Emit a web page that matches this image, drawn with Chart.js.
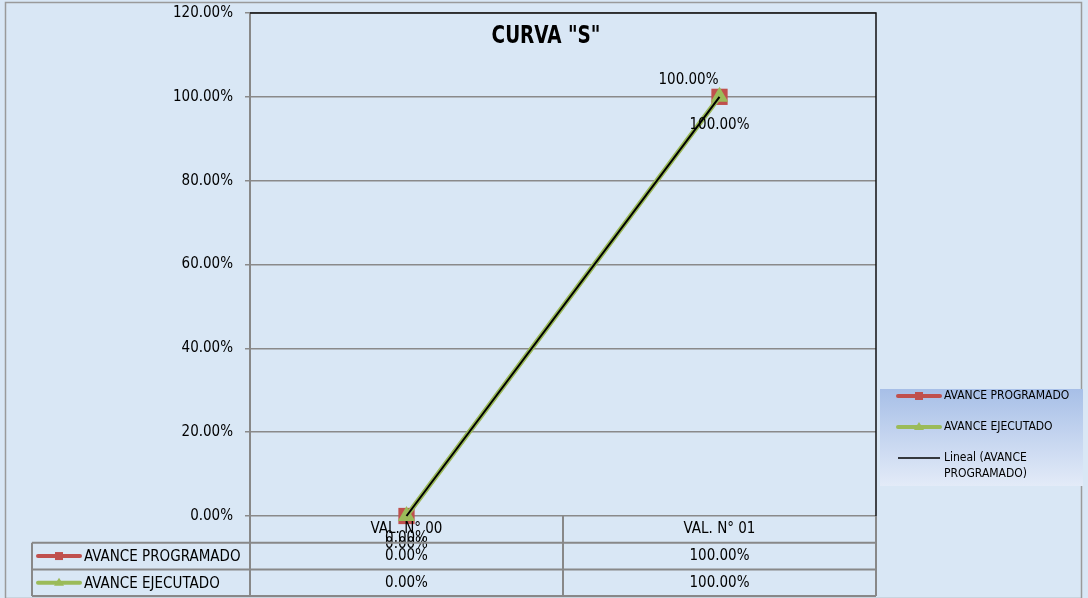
<!DOCTYPE html>
<html>
<head>
<meta charset="utf-8">
<script src="https://cdn.jsdelivr.net/npm/chart.js@4/dist/chart.umd.min.js"></script>
<style>
  html, body { margin: 0; padding: 0; background: #ffffff; }
  #wrap { width: 1088px; height: 598px; position: relative; }
</style>
</head>
<body>
<div id="wrap"><canvas id="curva" width="1088" height="598"></canvas></div>
<script>
// chart data
const categories = ['VAL. N° 00', 'VAL. N° 01'];
const avanceProgramado = [0, 1];
const avanceEjecutado = [0, 1];
const yTickValues = [0, 0.2, 0.4, 0.6, 0.8, 1.0, 1.2];

const FONT = "'Liberation Sans Narrow', 'Arial Narrow', 'DejaVu Sans Condensed', sans-serif";
const RED = '#c0504d';
const GREEN = '#9bbb59';

function pct(v) {
    return (v * 100).toFixed(2) + '%';
}

// linear trend (least squares) of the programmed series
function linearTrend(values) {
    const n = values.length;
    let sx = 0, sy = 0, sxy = 0, sxx = 0;
    values.forEach((v, i) => {
        const xi = i + 1;
        sx += xi; sy += v; sxy += xi * v; sxx += xi * xi;
    });
    const slope = (n * sxy - sx * sy) / (n * sxx - sx * sx);
    const icpt = (sy - slope * sx) / n;
    return values.map((v, i) => icpt + slope * (i + 1));
}

// background, frame and title
const backgroundPlugin = {
    id: 'background',
    beforeDraw(chart) {
        const ctx = chart.ctx;
        ctx.save();
        ctx.fillStyle = '#d9e7f5';
        ctx.fillRect(0, 0, chart.width, chart.height);
        ctx.restore();
    },
    afterDraw(chart) {
        const ctx = chart.ctx;
        const ca = chart.chartArea;
        ctx.save();
        // plot area border (top + right)
        ctx.strokeStyle = '#111111';
        ctx.lineWidth = 1.5;
        ctx.beginPath();
        ctx.moveTo(ca.left, ca.top);
        ctx.lineTo(ca.right, ca.top);
        ctx.lineTo(ca.right, ca.bottom);
        ctx.stroke();
        // outer frame
        ctx.strokeStyle = '#9a9a9a';
        ctx.lineWidth = 1.5;
        ctx.strokeRect(5.5, 2.5, 1076, 596);
        // title (squeezed a bit to look like a narrow face)
        ctx.fillStyle = '#000000';
        ctx.font = 'bold 25px ' + FONT;
        ctx.textAlign = 'center';
        ctx.textBaseline = 'middle';
        ctx.translate(546, 36);
        ctx.scale(0.82, 1);
        ctx.fillText('CURVA "S"', 0, 0);
        ctx.restore();
    }
};

function drawKey(ctx, x0, x1, y, color, style) {
    ctx.save();
    ctx.strokeStyle = color;
    ctx.fillStyle = color;
    ctx.lineCap = 'round';
    ctx.lineWidth = 4;
    ctx.beginPath();
    ctx.moveTo(x0, y);
    ctx.lineTo(x1, y);
    ctx.stroke();
    const cx = (x0 + x1) / 2;
    if (style === 'rect') {
        ctx.fillRect(cx - 4, y - 4, 8, 8);
    } else if (style === 'triangle') {
        ctx.beginPath();
        ctx.moveTo(cx, y - 5);
        ctx.lineTo(cx + 5, y + 3);
        ctx.lineTo(cx - 5, y + 3);
        ctx.closePath();
        ctx.fill();
    }
    ctx.restore();
}

// data table under the plot area
const dataTablePlugin = {
    id: 'dataTable',
    afterDraw(chart) {
        const ctx = chart.ctx;
        const ca = chart.chartArea;
        const xs = chart.scales.x;
        const rowH = 26.7;
        const tableLeft = 32;
        const edges = [ca.left];
        for (let i = 0; i < categories.length - 1; i++) {
            edges.push((xs.getPixelForValue(i) + xs.getPixelForValue(i + 1)) / 2);
        }
        edges.push(ca.right);
        const bottom = ca.bottom + rowH * 3;

        ctx.save();
        ctx.strokeStyle = '#888888';
        ctx.lineWidth = 2;
        ctx.beginPath();
        edges.forEach(e => {
            ctx.moveTo(e, ca.bottom);
            ctx.lineTo(e, bottom);
        });
        ctx.moveTo(tableLeft, ca.bottom + rowH);
        ctx.lineTo(tableLeft, bottom);
        for (let r = 1; r <= 3; r++) {
            ctx.moveTo(tableLeft, ca.bottom + rowH * r);
            ctx.lineTo(ca.right, ca.bottom + rowH * r);
        }
        ctx.stroke();

        ctx.fillStyle = '#000000';
        ctx.font = '15px ' + FONT;
        ctx.textBaseline = 'middle';
        ctx.textAlign = 'center';
        categories.forEach((c, i) => {
            const cx = xs.getPixelForValue(i);
            ctx.fillText(c, cx, ca.bottom + rowH * 0.5);
            ctx.fillText(pct(avanceProgramado[i]), cx, ca.bottom + rowH * 1.5);
            ctx.fillText(pct(avanceEjecutado[i]), cx, ca.bottom + rowH * 2.5);
        });
        ctx.textAlign = 'left';
        chart.data.datasets.slice(0, 2).forEach((ds, k) => {
            const y = ca.bottom + rowH * (k + 1.5);
            drawKey(ctx, 38, 80, y, ds.borderColor, ds.pointStyle);
            ctx.fillStyle = '#000000';
            ctx.fillText(ds.label, 84, y + 1);
        });
        ctx.restore();
    }
};

// value labels next to the points
const valueLabelPlugin = {
    id: 'valueLabels',
    afterDatasetsDraw(chart) {
        const ctx = chart.ctx;
        ctx.save();
        ctx.font = '15px ' + FONT;
        ctx.fillStyle = '#000000';
        ctx.textAlign = 'center';
        ctx.textBaseline = 'middle';
        [0, 1].forEach(di => {
            const meta = chart.getDatasetMeta(di);
            const values = chart.data.datasets[di].data;
            meta.data.forEach((pt, i) => {
                let dx = 0, dy;
                if (di === 0) {
                    if (values[i] > 0) { dx = -31; dy = -17; } else { dy = 22; }
                } else {
                    dy = 28;
                }
                ctx.fillText(pct(values[i]), pt.x + dx, pt.y + dy);
            });
        });
        ctx.restore();
    }
};

// legend box on the right
const sideLegendPlugin = {
    id: 'sideLegend',
    afterDraw(chart) {
        const ctx = chart.ctx;
        const bx = 880, by = 389, bw = 203, bh = 97;
        ctx.save();
        const g = ctx.createLinearGradient(0, by, 0, by + bh);
        g.addColorStop(0, '#a7bfe7');
        g.addColorStop(1, '#e3ebf8');
        ctx.fillStyle = g;
        ctx.fillRect(bx, by, bw, bh);
        const ds = chart.data.datasets;
        drawKey(ctx, 898, 940, 396, ds[0].borderColor, 'rect');
        drawKey(ctx, 898, 940, 427, ds[1].borderColor, 'triangle');
        ctx.strokeStyle = '#000000';
        ctx.lineWidth = 1.5;
        ctx.beginPath();
        ctx.moveTo(898, 458);
        ctx.lineTo(940, 458);
        ctx.stroke();
        ctx.fillStyle = '#000000';
        ctx.font = '12px ' + FONT;
        ctx.textAlign = 'left';
        ctx.textBaseline = 'middle';
        ctx.fillText(ds[0].label, 944, 396);
        ctx.fillText(ds[1].label, 944, 427);
        ctx.fillText('Lineal (AVANCE', 944, 458);
        ctx.fillText('PROGRAMADO)', 944, 474);
        ctx.restore();
    }
};

const ctx = document.getElementById('curva').getContext('2d');
new Chart(ctx, {
    type: 'line',
    data: {
        labels: categories,
        datasets: [{
            label: 'AVANCE PROGRAMADO',
            data: avanceProgramado,
            borderColor: RED,
            backgroundColor: RED,
            borderWidth: 4,
            pointStyle: 'rect',
            pointRadius: 11.5,
            pointBorderWidth: 0,
            clip: false,
            order: 3
        }, {
            label: 'AVANCE EJECUTADO',
            data: avanceEjecutado,
            borderColor: GREEN,
            backgroundColor: GREEN,
            borderWidth: 5,
            pointStyle: 'triangle',
            pointRadius: 10,
            pointBorderWidth: 0,
            clip: false,
            order: 2
        }, {
            label: 'Lineal (AVANCE PROGRAMADO)',
            data: linearTrend(avanceProgramado),
            borderColor: '#000000',
            borderWidth: 2,
            pointRadius: 0,
            clip: false,
            order: 1
        }]
    },
    options: {
        responsive: false,
        animation: false,
        layout: {
            padding: { left: 0, right: 212, top: 13, bottom: 0 }
        },
        plugins: {
            legend: { display: false },
            tooltip: { enabled: false },
            title: { display: false }
        },
        scales: {
            x: {
                offset: true,
                grid: { display: false },
                border: { display: false },
                ticks: { display: false },
                afterFit(scale) { scale.height = 82; }
            },
            y: {
                min: 0,
                max: 1.2,
                afterBuildTicks(scale) {
                    scale.ticks = yTickValues.map(v => ({ value: v }));
                },
                grid: {
                    color: '#8a8a8a',
                    lineWidth: 1.5,
                    tickLength: 5
                },
                border: { color: '#888888', width: 2 },
                ticks: {
                    padding: 12,
                    color: '#000000',
                    font: { family: FONT, size: 15 },
                    callback: v => pct(v)
                },
                afterFit(scale) {
                    scale.width = 250;
                    scale.paddingTop = 0;
                    scale.paddingBottom = 0;
                }
            }
        }
    },
    plugins: [backgroundPlugin, dataTablePlugin, valueLabelPlugin, sideLegendPlugin]
});
</script>
</body>
</html>
